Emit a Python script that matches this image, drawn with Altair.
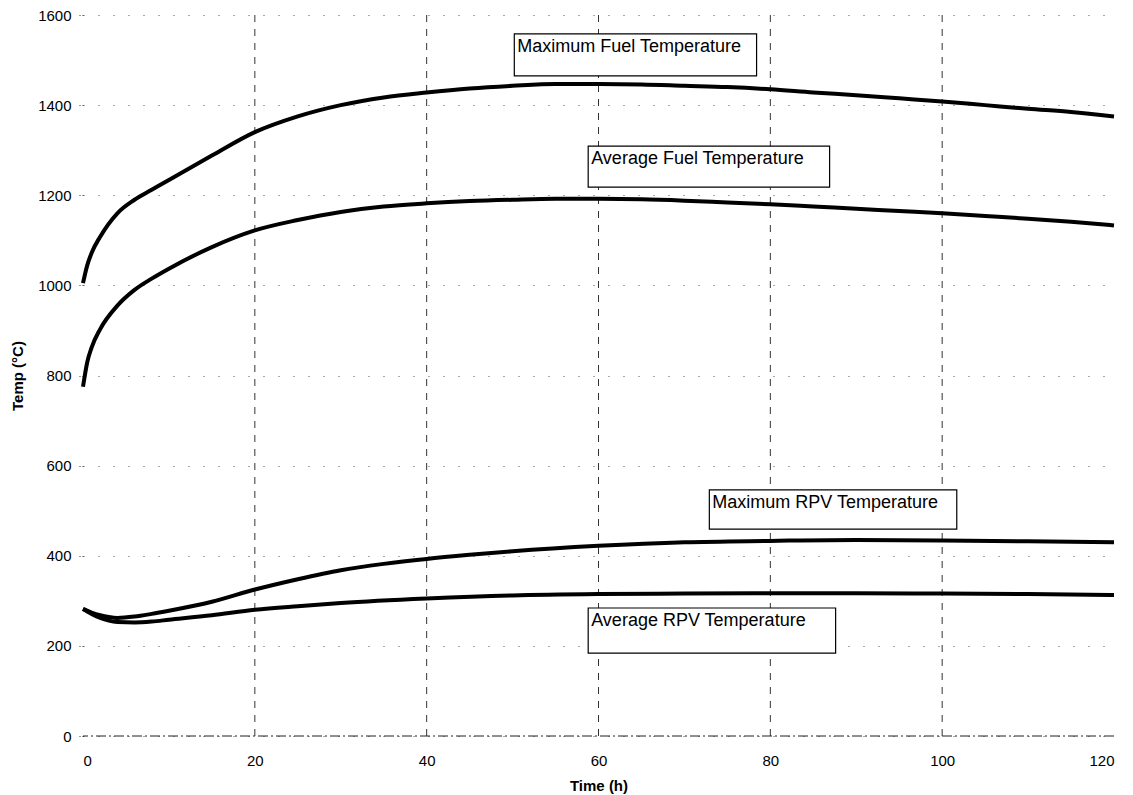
import altair as alt
import pandas as pd

# Time points (h) and series values (°C)
t_max_fuel = [0, 0.5, 1, 2, 4, 6, 8, 10, 15, 20, 25, 30, 35, 40, 45, 50, 55, 60, 65, 70, 75, 80, 85, 90, 95, 100, 105, 110, 115, 120]
max_fuel =   [1005, 1045, 1072, 1108, 1160, 1190, 1212, 1234, 1288, 1340, 1375, 1400, 1417, 1428, 1437, 1443, 1447, 1447, 1446, 1443, 1440, 1435, 1428, 1422, 1415, 1408, 1400, 1392, 1385, 1375]

t_avg_fuel = [0, 0.5, 1, 2, 4, 6, 8, 10, 15, 20, 25, 30, 35, 40, 45, 50, 55, 60, 65, 70, 75, 80, 85, 90, 95, 100, 105, 110, 115, 120]
avg_fuel =   [775, 830, 862, 903, 955, 990, 1015, 1037, 1085, 1122, 1145, 1163, 1175, 1182, 1187, 1190, 1192, 1192, 1191, 1188, 1184, 1180, 1175, 1170, 1165, 1160, 1154, 1148, 1141, 1133]

t_max_rpv = [0, 1, 2, 3, 4, 6, 8, 10, 15, 20, 25, 30, 35, 40, 45, 50, 60, 70, 80, 90, 100, 110, 120]
max_rpv =   [282, 274, 268, 264, 262, 265, 271, 278, 298, 325, 348, 368, 382, 393, 402, 410, 422, 430, 433, 435, 434, 432, 430]

t_avg_rpv = [0, 1, 2, 3, 4, 6, 8, 10, 15, 20, 25, 30, 40, 50, 60, 70, 80, 90, 100, 110, 120]
avg_rpv =   [282, 271, 262, 256, 253, 252, 254, 258, 268, 280, 288, 295, 305, 312, 315, 316, 317, 317, 316, 315, 313]

series_names = ["Maximum Fuel Temperature", "Average Fuel Temperature",
                "Maximum RPV Temperature", "Average RPV Temperature"]

# Label boxes (data coordinates)
box_text = series_names
box_x1 = [50.2, 58.8, 72.9, 58.8]
box_x2 = [78.4, 86.9, 101.7, 87.6]
box_y1 = [1558, 1309, 546, 284]
box_y2 = [1465, 1218, 459, 184]

# Vertical dashed grid positions and x-axis baseline
vgrid_x = [20, 40, 60, 80, 100]
baseline_y = [0]

rows = []
for name, ts, vs in zip(series_names,
                        [t_max_fuel, t_avg_fuel, t_max_rpv, t_avg_rpv],
                        [max_fuel, avg_fuel, max_rpv, avg_rpv]):
    for t, v in zip(ts, vs):
        rows.append({"series": name, "t": t, "v": v})
df = pd.DataFrame(rows)

boxes = pd.DataFrame({"text": box_text, "x1": box_x1, "x2": box_x2,
                      "y1": box_y1, "y2": box_y2})

xscale = alt.Scale(domain=[0, 120], nice=False, zero=False)
yscale = alt.Scale(domain=[0, 1600], nice=False)

vgrid = alt.Chart(pd.DataFrame({"x": vgrid_x})).mark_rule(
    color="#333333", strokeWidth=1, strokeDash=[7, 7]).encode(
    x=alt.X("x:Q", scale=xscale))

base = alt.Chart(pd.DataFrame({"y": baseline_y})).mark_rule(
    color="#222222", strokeWidth=1, strokeDash=[10, 3, 2, 3]).encode(
    y=alt.Y("y:Q", scale=yscale))

lines = alt.Chart(df).mark_line(color="black", strokeWidth=4,
                                interpolate="monotone").encode(
    x=alt.X("t:Q", scale=xscale,
            axis=alt.Axis(title="Time (h)", values=[0, 20, 40, 60, 80, 100, 120],
                          grid=False, domain=False, ticks=False,
                          labelPadding=17, titlePadding=10)),
    y=alt.Y("v:Q", scale=yscale,
            axis=alt.Axis(title="Temp (°C)", values=list(range(0, 1601, 200)),
                          format="d",
                          grid=True, gridDash=[1, 14], gridColor="#555555",
                          gridWidth=1, domain=False, tickSize=4, tickDash=[1, 2],
                          tickColor="#333333", labelPadding=8, titlePadding=12)),
    detail="series:N",
)

rects = alt.Chart(boxes).mark_rect(fill="white", stroke="black",
                                   strokeWidth=1.2).encode(
    x=alt.X("x1:Q", scale=xscale), x2="x2:Q",
    y=alt.Y("y1:Q", scale=yscale), y2="y2:Q",
)

labels = alt.Chart(boxes).mark_text(align="left", baseline="top", dx=3, dy=4,
                                    fontSize=18, font="Liberation Sans",
                                    color="black").encode(
    x=alt.X("x1:Q", scale=xscale),
    y=alt.Y("y1:Q", scale=yscale),
    text="text:N",
)

chart = alt.layer(vgrid, base, lines, rects, labels).properties(
    width=1031, height=721,
    autosize=alt.AutoSizeParams(type="none"),
    padding={"left": 75, "top": 7, "right": 10, "bottom": 62},
).configure_view(stroke=None).configure_axis(
    labelFont="Liberation Sans", labelFontSize=15, labelColor="black",
    titleFont="Liberation Sans", titleFontSize=15, titleFontWeight="bold",
    titleColor="black",
)

chart.save("out.html", embed_options={"renderer": "svg", "actions": False})
